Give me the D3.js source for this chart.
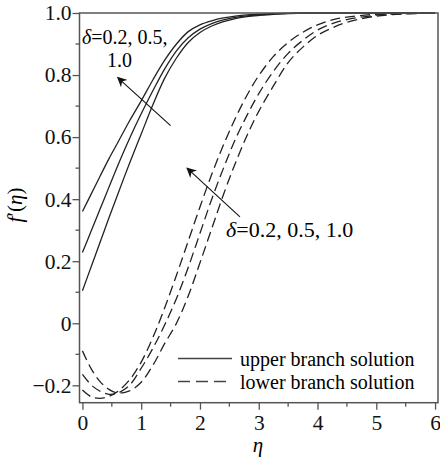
<!DOCTYPE html>
<html>
<head>
<meta charset="utf-8">
<script src="https://cdn.jsdelivr.net/npm/d3@7"></script>
<style>
  body { margin: 0; background: #fff; }
</style>
</head>
<body>
<div id="chart"></div>
<script>
// eta grid shared by all curves
const ETA = [0, 0.15, 0.3, 0.45, 0.6, 0.8, 1.0, 1.2, 1.4, 1.6, 1.8, 2.0, 2.2, 2.4,
  2.6, 2.8, 3.0, 3.25, 3.5, 3.75, 4.0, 4.25, 4.5, 5.0, 5.5, 6.0];

// upper branch (solid)
const UPPER_1 = [0.36, 0.417, 0.474, 0.53, 0.582, 0.652, 0.717, 0.785, 0.848, 0.9, 0.94,
  0.962, 0.975, 0.984, 0.99, 0.994, 0.996, 0.998, 0.999, 1, 1, 1, 1, 1, 1, 1];
const UPPER_2 = [0.228, 0.298, 0.368, 0.438, 0.508, 0.595, 0.675, 0.75, 0.82, 0.878, 0.92,
  0.948, 0.966, 0.978, 0.986, 0.991, 0.994, 0.997, 0.999, 1, 1, 1, 1, 1, 1, 1];
const UPPER_3 = [0.105, 0.183, 0.261, 0.339, 0.415, 0.515, 0.61, 0.705, 0.79, 0.855, 0.905,
  0.937, 0.958, 0.972, 0.982, 0.988, 0.992, 0.996, 0.998, 0.999, 1, 1, 1, 1, 1, 1];

// lower branch (dashed)
const LOWER_1 = [-0.089, -0.147, -0.188, -0.213, -0.225, -0.218, -0.19, -0.135, -0.065, 0.0,
  0.088, 0.195, 0.305, 0.415, 0.515, 0.605, 0.683, 0.765, 0.84, 0.89, 0.928, 0.952, 0.97,
  0.99, 0.997, 1];
const LOWER_2 = [-0.165, -0.199, -0.219, -0.229, -0.225, -0.2, -0.145, -0.08, -0.005, 0.08,
  0.18, 0.29, 0.4, 0.5, 0.592, 0.67, 0.74, 0.812, 0.87, 0.912, 0.945, 0.966, 0.979,
  0.993, 0.998, 1];
const LOWER_3 = [-0.215, -0.237, -0.242, -0.236, -0.22, -0.183, -0.125, -0.045, 0.05, 0.155,
  0.265, 0.375, 0.48, 0.575, 0.66, 0.735, 0.798, 0.86, 0.905, 0.938, 0.962, 0.978, 0.987,
  0.996, 0.999, 1];

const X_TICKS = [0, 1, 2, 3, 4, 5, 6];
const Y_TICKS = [-0.2, 0, 0.2, 0.4, 0.6, 0.8, 1.0];
const LEGEND_ITEMS = ["upper branch solution", "lower branch solution"];

const FONT = "'Liberation Serif', 'Times New Roman', serif";
const WIDTH = 440;
const HEIGHT = 457;
const PLOT = { LEFT: 79.5, RIGHT: 438, TOP: 13, BOTTOM: 402.7 };

const SVG = d3.select("#chart").append("svg")
  .attr("width", WIDTH)
  .attr("height", HEIGHT)
  .style("font-family", FONT);

const X_SCALE = d3.scaleLinear().domain([-0.05, 6.05]).range([PLOT.LEFT, PLOT.RIGHT]);
const Y_SCALE = d3.scaleLinear().domain([-0.256, 1.0]).range([PLOT.BOTTOM, PLOT.TOP]);

SVG.append("clipPath").attr("id", "clip")
  .append("rect")
  .attr("x", PLOT.LEFT).attr("y", PLOT.TOP - 1)
  .attr("width", PLOT.RIGHT - PLOT.LEFT).attr("height", PLOT.BOTTOM - PLOT.TOP + 1);

const LINE = d3.line()
  .x((d) => X_SCALE(d[0]))
  .y((d) => Y_SCALE(d[1]))
  .curve(d3.curveCatmullRom);

const SERIES = [
  { values: UPPER_1, dash: null },
  { values: UPPER_2, dash: null },
  { values: UPPER_3, dash: null },
  { values: LOWER_1, dash: "10,5" },
  { values: LOWER_2, dash: "10,5" },
  { values: LOWER_3, dash: "10,5" }
];

SVG.append("g").attr("clip-path", "url(#clip)")
  .selectAll("path")
  .data(SERIES)
  .enter()
  .append("path")
  .attr("d", (s) => LINE(ETA.map((e, i) => [e, s.values[i]])))
  .attr("fill", "none")
  .attr("stroke", "#222")
  .attr("stroke-width", 1.3)
  .attr("stroke-dasharray", (s) => s.dash);

// frame
SVG.append("rect")
  .attr("x", PLOT.LEFT).attr("y", PLOT.TOP)
  .attr("width", PLOT.RIGHT - PLOT.LEFT).attr("height", PLOT.BOTTOM - PLOT.TOP)
  .attr("fill", "none")
  .attr("stroke", "#555")
  .attr("stroke-width", 1.5);

// axes
const fmt = (d) => (d === 0 ? "0" : d3.format(".1f")(d).replace("-", "\u2212"));

const X_AXIS = d3.axisBottom(X_SCALE).tickValues(X_TICKS).tickFormat(d3.format("d"))
  .tickSize(7).tickPadding(5).tickSizeOuter(0);
const Y_AXIS = d3.axisLeft(Y_SCALE).tickValues(Y_TICKS).tickFormat(fmt)
  .tickSize(7).tickPadding(1).tickSizeOuter(0);

const XG = SVG.append("g")
  .attr("transform", "translate(0," + PLOT.BOTTOM + ")")
  .call(X_AXIS);
const YG = SVG.append("g")
  .attr("transform", "translate(" + PLOT.LEFT + ",0)")
  .call(Y_AXIS);

// minor ticks
XG.selectAll(".minor")
  .data(d3.range(0.5, 6, 1))
  .enter()
  .append("line")
  .attr("x1", (d) => X_SCALE(d)).attr("x2", (d) => X_SCALE(d))
  .attr("y1", 0).attr("y2", 4);
YG.selectAll(".minor")
  .data(d3.range(-0.1, 1.0, 0.2))
  .enter()
  .append("line")
  .attr("y1", (d) => Y_SCALE(d)).attr("y2", (d) => Y_SCALE(d))
  .attr("x1", 0).attr("x2", -4);

[XG, YG].forEach((g) => {
  g.select(".domain").remove();
  g.selectAll("line").attr("stroke", "#555").attr("stroke-width", 1.3);
  g.selectAll("text")
    .style("font-family", FONT)
    .style("font-size", "21.5px")
    .attr("fill", "#111");
});

// axis titles
SVG.append("text")
  .attr("x", 258).attr("y", 452)
  .attr("text-anchor", "middle")
  .style("font-size", "21px")
  .style("font-style", "italic")
  .text("\u03b7");

SVG.append("text")
  .attr("transform", "translate(22,205) rotate(-90)")
  .attr("text-anchor", "middle")
  .style("font-size", "21px")
  .html('<tspan font-style="italic">f</tspan>\u2032(<tspan font-style="italic">\u03b7</tspan>)');

// annotations
SVG.append("defs").append("marker")
  .attr("id", "arrow")
  .attr("viewBox", "0 0 10 10")
  .attr("refX", 9).attr("refY", 5)
  .attr("markerWidth", 10).attr("markerHeight", 10)
  .attr("markerUnits", "userSpaceOnUse")
  .attr("orient", "auto")
  .append("path")
  .attr("d", "M0,0 L10,5 L0,10 L3,5 Z")
  .attr("fill", "#111");

const ARROWS = [
  { from: [1.5, 0.637], to: [0.6, 0.792] },
  { from: [2.68, 0.343], to: [1.78, 0.5] }
];
SVG.selectAll(".arrow")
  .data(ARROWS)
  .enter()
  .append("line")
  .attr("x1", (d) => X_SCALE(d.from[0])).attr("y1", (d) => Y_SCALE(d.from[1]))
  .attr("x2", (d) => X_SCALE(d.to[0])).attr("y2", (d) => Y_SCALE(d.to[1]))
  .attr("stroke", "#111")
  .attr("stroke-width", 1.1)
  .attr("marker-end", "url(#arrow)");

const LABEL_1 = SVG.append("text").attr("x", 82).attr("y", 44).style("font-size", "20px");
LABEL_1.append("tspan").style("font-style", "italic").text("\u03b4");
LABEL_1.append("tspan").text("=0.2, 0.5,");
SVG.append("text").attr("x", 107).attr("y", 67).style("font-size", "20px").text("1.0");

const LABEL_2 = SVG.append("text").attr("x", 226).attr("y", 237).style("font-size", "22px");
LABEL_2.append("tspan").style("font-style", "italic").text("\u03b4");
LABEL_2.append("tspan").text("=0.2, 0.5, 1.0");

// legend
const LEGEND = SVG.append("g").attr("id", "legend");
const ITEM = LEGEND.selectAll("g")
  .data(LEGEND_ITEMS)
  .enter()
  .append("g")
  .attr("transform", (d, i) => "translate(0," + (358.5 + i * 23) + ")");
ITEM.append("line")
  .attr("x1", 178).attr("x2", 232)
  .attr("stroke", "#444")
  .attr("stroke-width", 1.3)
  .attr("stroke-dasharray", (d, i) => (i ? "12,6" : null));
ITEM.append("text")
  .attr("x", 240).attr("y", 7)
  .style("font-size", "20px")
  .text((d) => d);
</script>
</body>
</html>
